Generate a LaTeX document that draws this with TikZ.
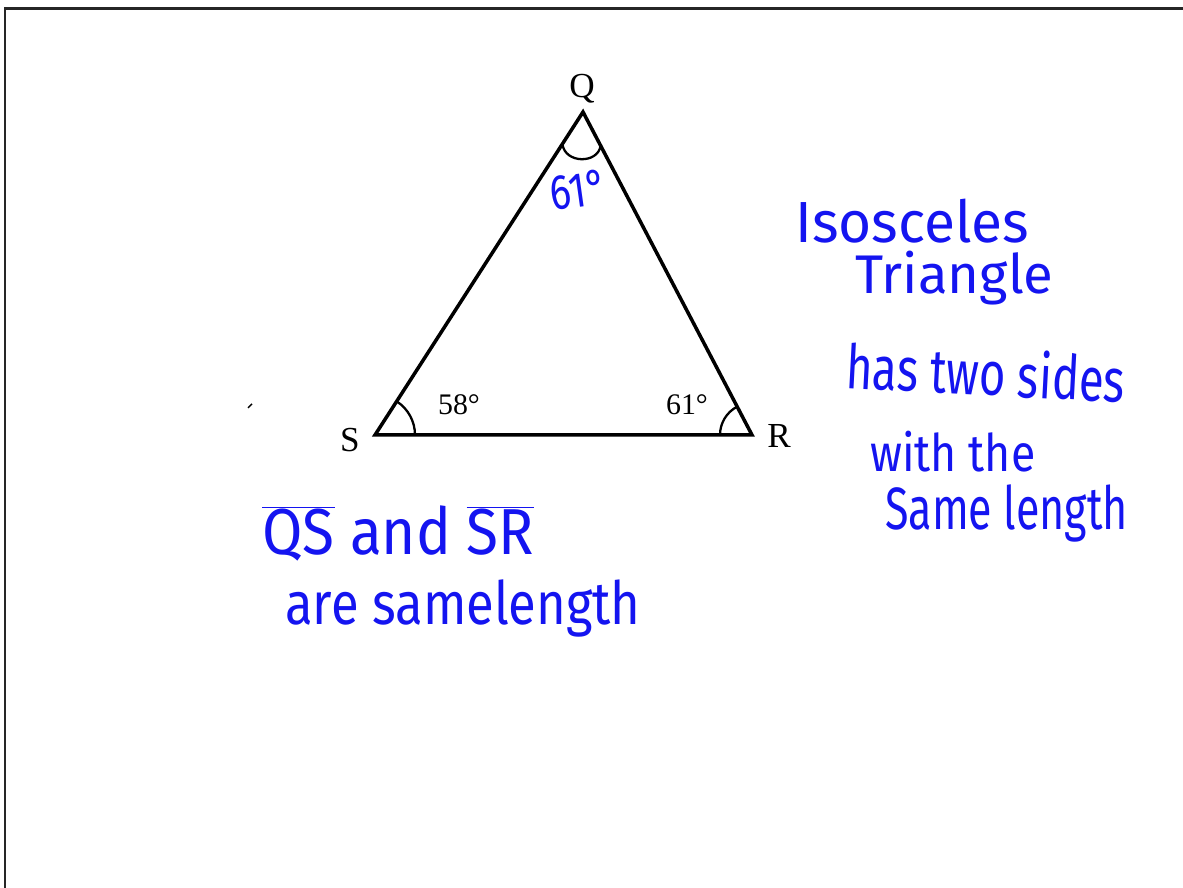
\documentclass[tikz,border=0pt]{standalone}
\usepackage{fontspec}
\usetikzlibrary{calc}
\setmainfont{Liberation Serif}
\newfontfamily\handfont{Fira Sans}
\newcommand\inkfont[1]{\handfont\fontsize{#1}{#1}\selectfont}
\definecolor{inkblue}{HTML}{1414F0}
\tikzset{
  side/.style    = {line width=2pt, line join=miter},
  angmark/.style = {line width=1.3pt},
  frame/.style   = {line width=1.7pt, black!85},
  vlbl/.style    = {font=\fontsize{20pt}{20pt}\selectfont, inner sep=0pt, anchor=base},
  albl/.style    = {font=\fontsize{17pt}{17pt}\selectfont, inner sep=0pt, anchor=base},
  hand/.style    = {text=inkblue, inner sep=0pt, anchor=base west},
}
\begin{document}
\begin{tikzpicture}[x=0.02cm, y=0.02cm]
  \useasboundingbox (0,0) rectangle (1183,888);
  % page frame
  \coordinate (fb) at (5,0);
  \coordinate (fc) at (5,879);
  \coordinate (fr) at (1183,879);
  \draw[frame] (fb) -- (fc) -- (fr);
  % triangle
  \coordinate (Q) at (583,776);
  \coordinate (S) at (375,453);
  \coordinate (R) at (752,453);
  \draw[side] (S) -- (Q) -- (R) -- cycle;
  % angle marks
  \draw[angmark] ($(S)+(40,0)$) arc (0:57:40);
  \draw[angmark] ($(R)+(-32,0)$) arc (180:117.6:32);
  \draw[angmark] (562.4,744) .. controls (565,724) and (598,724) .. (600.6,742.3);
  % stray mark
  \coordinate (t1) at (248,480);
  \coordinate (t2) at (252,484);
  \draw[line width=0.8pt] (t1) -- (t2);
  % printed labels
  \node[vlbl] (lQ) at (582,790) {Q};
  \node[vlbl] (lS) at (350,436) {S};
  \node[vlbl] (lR) at (779,440) {R};
  \node[albl] (aS) at (459,473) {58°};
  \node[albl] (aR) at (687,473) {61°};
  % handwritten notes
  \node[hand, anchor=center, rotate=8, xscale=0.8, font=\inkfont{28pt}] (hQ) at (578,698) {61°};
  \node[hand, xscale=0.98, font=\inkfont{33pt}] (n1) at (795,645) {Isosceles};
  \node[hand, xscale=1.0, font=\inkfont{31pt}] (n2) at (855,594) {Triangle};
  \node[hand, rotate=-3, xscale=0.74, font=\inkfont{35pt}] (n3) at (845,500) {has two sides};
  \node[hand, xscale=0.86, font=\inkfont{29.5pt}] (n4) at (870,416) {with the};
  \node[hand, xscale=0.72, font=\inkfont{34pt}] (n5) at (885,358) {Same length};
  \node[hand, xscale=0.9, font=\inkfont{37pt}] (n6) at (262,333)
    {$\overline{\hbox{QS}}$ and $\overline{\hbox{SR}}$};
  \node[hand, xscale=0.85, font=\inkfont{34pt}] (n7) at (285,263) {are samelength};
\end{tikzpicture}
\end{document}
